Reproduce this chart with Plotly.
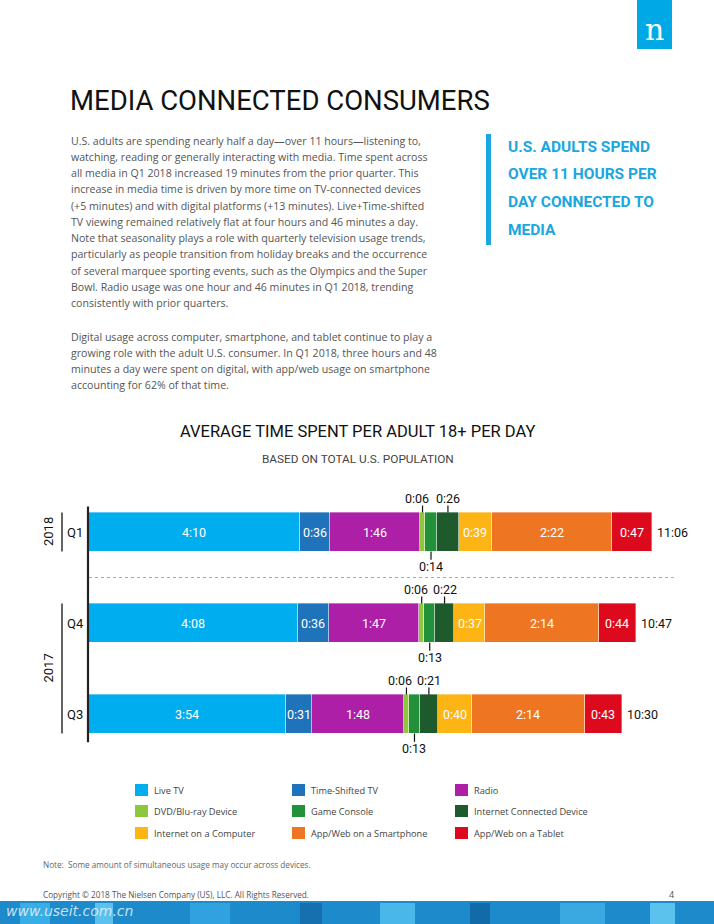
import plotly.graph_objects as go

# ---------------- data ----------------
quarters = ["Q1", "Q4", "Q3"]
years = ["2018", "2017"]
series_names = ["Live TV", "Time-Shifted TV", "Radio",
                "DVD/Blu-ray Device", "Game Console", "Internet Connected Device",
                "Internet on a Computer", "App/Web on a Smartphone", "App/Web on a Tablet"]
series_colors = ["#00AEEF", "#1F73BA", "#AC1FA6",
                 "#8DC63F", "#23903A", "#1F5A2C",
                 "#FDB415", "#EE7623", "#DD0A1E"]
# minutes per day, one list per quarter (same order as series_names)
q1_2018 = [250, 36, 106, 6, 14, 26, 39, 142, 47]
q4_2017 = [248, 36, 107, 6, 13, 22, 37, 134, 44]
q3_2017 = [234, 31, 108, 6, 13, 21, 40, 134, 43]
quarter_values = [q1_2018, q4_2017, q3_2017]
quarter_pos = [2, 1, 0]

body_lines_1 = [
    "U.S. adults are spending nearly half a day\u2014over 11 hours\u2014listening to,",
    "watching, reading or generally interacting with media. Time spent across",
    "all media in Q1 2018 increased 19 minutes from the prior quarter. This",
    "increase in media time is driven by more time on TV-connected devices",
    "(+5 minutes) and with digital platforms (+13 minutes). Live+Time-shifted",
    "TV viewing remained relatively flat at four hours and 46 minutes a day.",
    "Note that seasonality plays a role with quarterly television usage trends,",
    "particularly as people transition from holiday breaks and the occurrence",
    "of several marquee sporting events, such as the Olympics and the Super",
    "Bowl. Radio usage was one hour and 46 minutes in Q1 2018, trending",
    "consistently with prior quarters.",
]
body_lines_2 = [
    "Digital usage across computer, smartphone, and tablet continue to play a",
    "growing role with the adult U.S. consumer. In Q1 2018, three hours and 48",
    "minutes a day were spent on digital, with app/web usage on smartphone",
    "accounting for 62% of that time.",
]
callout_lines = ["U.S. ADULTS SPEND", "OVER 11 HOURS PER", "DAY CONNECTED TO", "MEDIA"]

W, H = 714, 924
COND = "Roboto, Liberation Sans, sans-serif"
BODY = "Open Sans, Noto Sans, sans-serif"
BLUE = "#1AA7E0"


def px(x):
    return x / W


def py(y):
    return 1 - y / H


def fmt(m):
    return f"{m // 60}:{m % 60:02d}"


def note(x, y, text, size, color, family=COND, xanchor="center", **kw):
    d = dict(x=px(x), y=py(y), xref="paper", yref="paper", text=text, showarrow=False,
             xanchor=xanchor, yanchor="middle",
             font=dict(family=family, size=size, color=color))
    d.update(kw)
    return d


fig = go.Figure()

# stacked bars
for i, name in enumerate(series_names):
    fig.add_trace(go.Bar(
        orientation="h",
        y=quarter_pos,
        x=[vals[i] for vals in quarter_values],
        name=name,
        marker=dict(color=series_colors[i], line=dict(color="rgba(255,255,255,0.6)", width=0.6)),
        width=0.43,
        showlegend=False,
        hoverinfo="skip",
    ))

annotations = []
shapes = []

LBL = 12.5
BAR_HALF = 0.215
small_idx = {3: "above_left", 4: "below", 5: "above"}
for vals, ypos in zip(quarter_values, quarter_pos):
    cum = 0
    for i, v in enumerate(vals):
        mid = cum + v / 2
        if i in small_idx:
            mode = small_idx[i]
            if mode.startswith("above"):
                shapes.append(dict(type="line", xref="x", yref="y", x0=mid, x1=mid,
                                   y0=ypos + BAR_HALF, y1=ypos + BAR_HALF + 0.075,
                                   line=dict(color="#111", width=1.2)))
                annotations.append(dict(x=mid, y=ypos + BAR_HALF, xref="x", yref="y",
                                        text=fmt(v), showarrow=False, yshift=14,
                                        xanchor="center", yanchor="middle",
                                        xshift=-6 if mode == "above_left" else 0,
                                        font=dict(family=COND, size=LBL, color="#111")))
            else:
                shapes.append(dict(type="line", xref="x", yref="y", x0=mid, x1=mid,
                                   y0=ypos - BAR_HALF, y1=ypos - BAR_HALF - 0.09,
                                   line=dict(color="#111", width=1.2)))
                annotations.append(dict(x=mid, y=ypos - BAR_HALF, xref="x", yref="y",
                                        text=fmt(v), showarrow=False, yshift=-15,
                                        xanchor="center", yanchor="middle",
                                        font=dict(family=COND, size=LBL, color="#111")))
        else:
            annotations.append(dict(x=mid, y=ypos, xref="x", yref="y", text=fmt(v),
                                    showarrow=False, xanchor="center", yanchor="middle",
                                    font=dict(family=COND, size=LBL, color="white")))
        cum += v
    annotations.append(dict(x=cum, y=ypos, xref="x", yref="y", text=fmt(cum),
                            showarrow=False, xanchor="left", yanchor="middle", xshift=3,
                            font=dict(family=COND, size=LBL, color="#111")))

# quarter labels & year brackets
for q, ypos in zip(quarters, quarter_pos):
    annotations.append(dict(x=px(75), y=ypos, xref="paper", yref="y", text=q,
                            showarrow=False, xanchor="center", yanchor="middle",
                            font=dict(family=COND, size=13, color="#111")))
for yr, ycen in zip(years, [2, 0.5]):
    annotations.append(dict(x=px(48), y=ycen, xref="paper", yref="y", text=yr, textangle=-90,
                            showarrow=False, xanchor="center", yanchor="middle",
                            font=dict(family=COND, size=13, color="#111")))
shapes.append(dict(type="line", xref="paper", yref="y", x0=px(62), x1=px(62),
                   y0=2 - BAR_HALF, y1=2 + BAR_HALF, line=dict(color="#111", width=1.3)))
shapes.append(dict(type="line", xref="paper", yref="y", x0=px(62), x1=px(62),
                   y0=0 - BAR_HALF, y1=1 + BAR_HALF, line=dict(color="#111", width=1.3)))
# axis line
shapes.append(dict(type="line", xref="paper", yref="y", x0=px(88), x1=px(88),
                   y0=-0.31, y1=2.28, line=dict(color="#222", width=2.2)))
# dotted separator
shapes.append(dict(type="line", xref="paper", yref="y", x0=px(89), x1=px(677),
                   y0=1.5, y1=1.5, line=dict(color="#aaa", width=1, dash="dot")))

# ---------------- page elements ----------------
# Nielsen logo
shapes.append(dict(type="rect", xref="paper", yref="paper", x0=px(637), x1=px(672),
                   y0=py(49), y1=py(0), fillcolor="#00A9E6", line=dict(width=0)))
annotations.append(note(654.5, 30, "n", 30, "white", family="DejaVu Serif, Liberation Serif, serif"))
# main title
annotations.append(note(68, 100, "MEDIA CONNECTED CONSUMERS", 27.5, "#111", xanchor="left"))
# body text
for k, line in enumerate(body_lines_1):
    annotations.append(note(69, 140.7 + k * 16.25, line, 10.6, "#555", family=BODY, xanchor="left"))
for k, line in enumerate(body_lines_2):
    annotations.append(note(69, 336.7 + k * 16.25, line, 10.6, "#555", family=BODY, xanchor="left"))
# callout
shapes.append(dict(type="rect", xref="paper", yref="paper", x0=px(486), x1=px(491),
                   y0=py(245), y1=py(134), fillcolor=BLUE, line=dict(width=0)))
for k, line in enumerate(callout_lines):
    annotations.append(note(506, 147 + k * 27.5, "<b>" + line + "</b>", 15.5, BLUE, xanchor="left"))
# chart titles
annotations.append(note(357, 432, "AVERAGE TIME SPENT PER ADULT 18+ PER DAY", 16.5, "#111"))
annotations.append(note(358, 459, "BASED ON TOTAL U.S. POPULATION", 11.8, "#444"))

# legend (3 columns)
leg_x = [135, 292, 455]
leg_y = [790, 811, 833]
for i, name in enumerate(series_names):
    r, c = divmod(i, 3)
    x, y = leg_x[c], leg_y[r]
    shapes.append(dict(type="rect", xref="paper", yref="paper", x0=px(x), x1=px(x + 13),
                       y0=py(y + 6), y1=py(y - 6), fillcolor=series_colors[i],
                       line=dict(width=0)))
    annotations.append(note(x + 17, y, name, 9.2, "#444", family=BODY, xanchor="left"))

# footer
annotations.append(note(41, 864, "Note:  Some amount of simultaneous usage may occur across devices.",
                        8.2, "#666", family=BODY, xanchor="left"))
annotations.append(note(41, 894, "Copyright \u00a9 2018 The Nielsen Company (US), LLC. All Rights Reserved.",
                        8.2, "#555", family=BODY, xanchor="left"))
annotations.append(note(671, 894, "4", 9, "#555", family=BODY))
shapes.append(dict(type="rect", xref="paper", yref="paper", x0=0, x1=1,
                   y0=0, y1=py(901), fillcolor="#1C8ACB", line=dict(width=0), layer="below"))
for sx, sw, col in [(20, 30, "#38AEE6"), (95, 18, "#5BC2EE"), (190, 40, "#2FA2DF"),
                    (300, 22, "#1670B0"), (380, 35, "#49B7EA"), (470, 20, "#126AA8"),
                    (560, 45, "#3AA9E2"), (650, 25, "#5BC2EE")]:
    shapes.append(dict(type="rect", xref="paper", yref="paper", x0=px(sx), x1=px(sx + sw),
                       y0=0, y1=py(903), fillcolor=col, line=dict(width=0), layer="below"))
annotations.append(note(4, 911, "<i>www.useit.com.cn</i>", 14, "rgba(235,240,245,0.85)",
                        family="DejaVu Sans, sans-serif", xanchor="left"))

fig.update_layout(
    width=W, height=H,
    margin=dict(l=0, r=0, t=0, b=0),
    paper_bgcolor="white", plot_bgcolor="white",
    barmode="stack",
    bargap=0,
    showlegend=False,
    xaxis=dict(domain=[px(88), px(680)], range=[0, 699], visible=False, fixedrange=True),
    yaxis=dict(domain=[py(759.5), py(486.5)], range=[-0.5, 2.5], visible=False, fixedrange=True),
    annotations=annotations,
    shapes=shapes,
)

fig.write_html("out.html", config={"displayModeBar": False},
               post_script="document.body.style.margin='0';")
